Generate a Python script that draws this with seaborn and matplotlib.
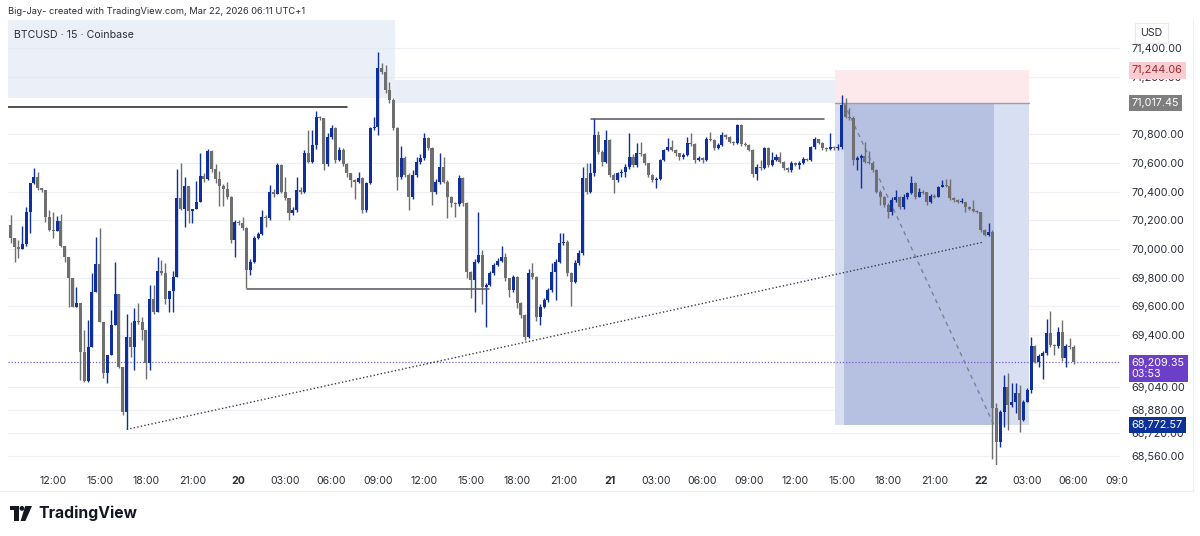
import numpy as np
import pandas as pd
import matplotlib
matplotlib.use("Agg")
import matplotlib.pyplot as plt
import seaborn as sns
from matplotlib.patches import Rectangle, Polygon, Circle
from matplotlib.lines import Line2D
from matplotlib.transforms import Bbox, TransformedBbox, blended_transform_factory

# ---- data: BTCUSD 15m candles, Coinbase ----
start_time = "2026-03-19 09:15"
first_open = 70167
close_px = [
    70074, 70016, 69998, 70035, 70260, 70458, 70499, 70423, 70411, 70225, 70132, 70128,
    70197, 70021, 69947, 69796, 69598, 69621, 69280, 69082, 69319, 69698, 69893, 69494,
    69138, 69261, 69470, 69684, 69180, 68866, 69389, 69319, 69501, 69494, 69435, 69208,
    69654, 69563, 69847, 69830, 69649, 69707, 69807, 70358, 70279, 70441, 70267, 70279,
    70330, 70510, 70485, 70680, 70555, 70485, 70440, 70420, 70365, 70063, 70190, 70183,
    70144, 69854, 69912, 70074, 70104, 70225, 70214, 70400, 70385, 70585, 70400, 70353,
    70249, 70272, 70411, 70400, 70667, 70609, 70725, 70922, 70911, 70592, 70783, 70841,
    70620, 70690, 70592, 70527, 70481, 70469, 70492, 70272, 70458, 70841, 70848, 71259,
    71236, 71108, 71038, 70841, 70504, 70632, 70516, 70365, 70516, 70609, 70632, 70771,
    70701, 70399, 70469, 70574, 70469, 70365, 70318, 70315, 70492, 70318, 69842, 69784,
    69912, 69958, 69737, 69749, 69830, 69888, 69916, 69946, 69795, 69714, 69807, 69621,
    69540, 69389, 69830, 69807, 69528, 69598, 69644, 69714, 69842, 69912, 70040, 70050,
    69830, 69772, 69900, 69970, 70492, 70400, 70527, 70794, 70678, 70608, 70759, 70515,
    70480, 70527, 70540, 70573, 70643, 70585, 70666, 70660, 70597, 70515, 70480, 70490,
    70620, 70690, 70713, 70690, 70666, 70638, 70655, 70736, 70730, 70620, 70632, 70620,
    70764, 70760, 70701, 70724, 70794, 70783, 70748, 70736, 70864, 70731, 70724, 70690,
    70522, 70573, 70562, 70701, 70585, 70620, 70643, 70608, 70562, 70550, 70597, 70585,
    70597, 70625, 70620, 70713, 70764, 70741, 70701, 70694, 70713, 70701, 70713, 71003,
    70922, 70915, 70620, 70632, 70650, 70608, 70597, 70550, 70400, 70365, 70307, 70260,
    70341, 70365, 70290, 70365, 70388, 70458, 70365, 70400, 70395, 70330, 70370, 70365,
    70434, 70446, 70440, 70353, 70341, 70330, 70330, 70295, 70277, 70268, 70260, 70132,
    70098, 70121, 68890, 68657, 68866, 69040, 68913, 68936, 68999, 68808, 68936, 69017,
    69324, 69215, 69254, 69273, 69412, 69331, 69324, 69424, 69238, 69324, 69320, 69209.35,
]
high_px = [
    70237, 70074, 70063, 70160, 70295, 70458, 70562, 70539, 70423, 70411, 70272, 70260,
    70230, 70244, 70021, 69947, 69796, 69738, 69621, 69435, 69505, 69830, 70081, 70149,
    69494, 69261, 69575, 69912, 69684, 69180, 69547, 69494, 69586, 69626, 69528, 69435,
    69749, 69749, 69947, 69923, 69900, 69707, 69849, 70555, 70597, 70499, 70441, 70279,
    70476, 70670, 70530, 70700, 70690, 70590, 70545, 70450, 70470, 70370, 70200, 70200,
    70225, 70150, 69930, 70090, 70115, 70272, 70240, 70446, 70420, 70597, 70590, 70504,
    70353, 70290, 70504, 70430, 70690, 70829, 70829, 70964, 70930, 70911, 70806, 70864,
    70850, 70713, 70702, 70600, 70530, 70485, 70539, 70500, 70470, 70850, 70917, 71375,
    71294, 71282, 71166, 71050, 70853, 70718, 70650, 70530, 70550, 70640, 70660, 70806,
    70780, 70710, 70490, 70667, 70640, 70480, 70370, 70330, 70515, 70500, 70330, 69850,
    69930, 70260, 69990, 69760, 69850, 69900, 69940, 70020, 69970, 69800, 69820, 69810,
    69630, 69545, 69860, 69900, 69810, 69620, 69660, 69730, 69900, 69930, 70110, 70110,
    70060, 69840, 69920, 69990, 70573, 70597, 70600, 70910, 70820, 70690, 70829, 70770,
    70530, 70540, 70560, 70590, 70806, 70660, 70736, 70748, 70670, 70600, 70520, 70500,
    70630, 70700, 70771, 70760, 70700, 70670, 70670, 70778, 70810, 70740, 70650, 70640,
    70780, 70812, 70765, 70740, 70812, 70800, 70790, 70755, 70870, 70870, 70748, 70730,
    70700, 70590, 70620, 70710, 70710, 70678, 70660, 70673, 70615, 70570, 70610, 70605,
    70610, 70640, 70635, 70720, 70778, 70770, 70745, 70710, 70810, 70720, 70730, 71073,
    71050, 70980, 70925, 70645, 70660, 70748, 70680, 70610, 70560, 70410, 70370, 70320,
    70360, 70411, 70370, 70380, 70400, 70509, 70465, 70423, 70410, 70400, 70380, 70380,
    70440, 70481, 70485, 70490, 70360, 70345, 70353, 70330, 70300, 70341, 70275, 70260,
    70140, 70179, 70130, 68925, 68880, 69122, 69133, 69064, 69064, 69052, 68950, 69030,
    69389, 69330, 69270, 69290, 69510, 69570, 69340, 69459, 69505, 69340, 69377, 69330,
]
low_px = [
    70039, 69912, 69935, 69998, 70020, 70109, 70450, 70411, 70400, 70190, 70128, 70074,
    70128, 70015, 69912, 69598, 69598, 69598, 69087, 69075, 69075, 69319, 69698, 69494,
    69099, 69064, 69261, 69470, 69168, 68843, 68743, 69250, 69157, 69480, 69366, 69092,
    69157, 69550, 69563, 69820, 69620, 69563, 69563, 69807, 70270, 70151, 70179, 70183,
    70279, 70330, 70470, 70480, 70540, 70460, 70300, 70300, 70350, 70040, 69947, 70170,
    70130, 69726, 69819, 69900, 70070, 70100, 70150, 70200, 70360, 70380, 70390, 70340,
    70202, 70240, 70260, 70380, 70390, 70600, 70600, 70700, 70900, 70551, 70580, 70770,
    70600, 70610, 70580, 70504, 70434, 70346, 70460, 70249, 70260, 70450, 70830, 70794,
    71220, 71090, 71020, 70830, 70411, 70490, 70500, 70272, 70350, 70500, 70590, 70620,
    70690, 70306, 70380, 70450, 70460, 70214, 70290, 70225, 70300, 70300, 69800, 69656,
    69563, 69900, 69620, 69458, 69740, 69820, 69880, 69910, 69780, 69668, 69700, 69586,
    69520, 69366, 69380, 69790, 69500, 69470, 69590, 69630, 69700, 69644, 69900, 70030,
    69810, 69600, 69760, 69890, 69960, 70380, 70390, 70510, 70660, 70580, 70600, 70500,
    70388, 70470, 70500, 70500, 70560, 70570, 70570, 70650, 70585, 70500, 70470, 70422,
    70480, 70610, 70680, 70680, 70650, 70620, 70630, 70650, 70720, 70597, 70610, 70600,
    70610, 70750, 70690, 70700, 70715, 70770, 70740, 70725, 70730, 70720, 70715, 70680,
    70500, 70480, 70550, 70555, 70570, 70580, 70610, 70600, 70550, 70540, 70540, 70575,
    70560, 70590, 70610, 70615, 70700, 70730, 70690, 70680, 70690, 70690, 70690, 70700,
    70910, 70900, 70585, 70550, 70423, 70600, 70590, 70540, 70390, 70306, 70290, 70214,
    70240, 70330, 70280, 70280, 70350, 70380, 70350, 70360, 70385, 70306, 70320, 70355,
    70360, 70430, 70430, 70340, 70330, 70320, 70320, 70260, 70270, 70260, 70250, 70120,
    70090, 70090, 68540, 68483, 68622, 68762, 68739, 68900, 68855, 68727, 68800, 68936,
    69000, 69203, 69180, 69092, 69260, 69320, 69261, 69310, 69220, 69180, 69300, 69200,
]

x_tick_labels = ["12:00", "15:00", "18:00", "21:00", "20", "03:00", "06:00", "09:00",
                 "12:00", "15:00", "18:00", "21:00", "21", "03:00", "06:00", "09:00",
                 "12:00", "15:00", "18:00", "21:00", "22", "03:00", "06:00", "09:00"]
x_tick_times = pd.date_range("2026-03-19 12:00", "2026-03-22 09:00", freq="3h")
day_labels = ["20", "21", "22"]
y_ticks = [71400, 71200, 70800, 70600, 70400, 70200, 70000, 69800, 69600,
           69400, 69040, 68880, 68720, 68560]

# drawings on the chart (time in bar index, price)
last_price = 69209.35
countdown = "03:53"
trend_line = ([30, 251.8], [68743, 70049])
level_lines = [([-0.7, 86.9], 70990), ([61.1, 123.8], 69721), ([150.2, 210.4], 70906)]
zone_upper = ([-0.7, 99.3], [71052, 71596])
zone_mid = ([99.3, 219.4], [71017, 71178])
pos_x = [213.3, 263.4]
pos_hit_x = [215.6, 254.4]
pos_entry, pos_stop, pos_target = 71017.45, 71244.06, 68772.57

# ---- style ----
sns.set_theme(style="white")
plt.rcParams["font.family"] = ["Inter", "DejaVu Sans"]
BLUE = "#0f2f9b"
GRAY = "#6f6f6f"
TXT = "#2a2e39"

W, H = 1200, 536
fig = plt.figure(figsize=(W / 100, H / 100), dpi=100)
ax = fig.add_axes([8 / W, 1 - 465 / H, 1112 / W, 445 / H])
ax.set_xlim(-0.7, 286.6)
ax.set_ylim(68494.8, 71595.8)

close = np.array(close_px, float)
high = np.array(high_px, float)
low = np.array(low_px, float)
open_ = np.concatenate([[first_open], close[:-1]])
high = np.maximum(high, np.maximum(open_, close))
low = np.minimum(low, np.minimum(open_, close))
idx = np.arange(len(close))
up = close >= open_
cols = np.where(up, BLUE, GRAY)

# zones
ax.add_patch(Rectangle((zone_upper[0][0], zone_upper[1][0]), zone_upper[0][1] - zone_upper[0][0],
                       zone_upper[1][1] - zone_upper[1][0], color="#dfe5f3", alpha=0.6, lw=0, zorder=1))
ax.add_patch(Rectangle((zone_mid[0][0], zone_mid[1][0]), zone_mid[0][1] - zone_mid[0][0],
                       zone_mid[1][1] - zone_mid[1][0], color="#d9e0f2", alpha=0.55, lw=0, zorder=1))
# position tool
ax.add_patch(Rectangle((pos_x[0], pos_entry), pos_x[1] - pos_x[0], pos_stop - pos_entry,
                       color="#fde9ec", lw=0, zorder=1.2))
ax.add_patch(Rectangle((pos_x[0], pos_target), pos_x[1] - pos_x[0], pos_entry - pos_target,
                       color="#d8dff2", lw=0, zorder=1.2))
ax.add_patch(Rectangle((pos_hit_x[0], pos_target), pos_hit_x[1] - pos_hit_x[0], pos_entry - pos_target,
                       color="#b6c1e2", lw=0, zorder=1.3))
ax.plot(pos_x, [pos_entry, pos_entry], color="#9a9ea8", lw=1, zorder=1.4)
ax.plot(pos_hit_x, [pos_entry, pos_target], color="#7d818c", lw=1, ls=(0, (3, 3)), zorder=2)

# last price line
ax.axhline(last_price, color="#7b5bd3", lw=0.9, ls=(0, (1, 1.5)), zorder=1.5)

# candles
ax.vlines(idx, low, high, colors=cols, lw=1.0, zorder=3)
body = close - open_
min_body = 7
body = np.where(np.abs(body) < min_body, np.where(up, min_body, -min_body), body)
ax.bar(idx, body, bottom=open_, width=0.78, color=cols, lw=0, zorder=4)

# drawn lines
for i, (xs, yv) in enumerate(level_lines):
    sns.lineplot(x=xs, y=[yv, yv], ax=ax, color="#2b2b2b" if i == 0 else "#5a5d66",
                 lw=1.15, zorder=5, estimator=None)
sns.lineplot(x=trend_line[0], y=trend_line[1], ax=ax, color="#3a3d45", lw=1,
             linestyle=(0, (1, 1.6)), zorder=5, estimator=None)

# axes styling
for s in ax.spines.values():
    s.set_visible(False)
ax.yaxis.tick_right()
ax.set_yticks(y_ticks)
ax.set_yticklabels([f"{v:,.2f}" for v in y_ticks])
ax.tick_params(axis="y", length=0, pad=8.5, labelsize=7.8, labelcolor=TXT)
ax.grid(axis="y", color="#eef0f5", lw=0.9, zorder=0)
ax.grid(axis="x", visible=False)
ax.set_axisbelow(True)

t0 = pd.Timestamp(start_time)
x_pos = [(t - t0) / pd.Timedelta(minutes=15) for t in x_tick_times]
ax.set_xticks(x_pos)
ax.set_xticklabels(x_tick_labels)
ax.tick_params(axis="x", length=0, pad=8, labelsize=7.6, labelcolor=TXT)
for lab in ax.get_xticklabels():
    if lab.get_text() in day_labels:
        lab.set_fontweight("bold")
last_lab = ax.get_xticklabels()[-1]
last_lab.set_clip_box(TransformedBbox(Bbox.from_extents(0, 0, 1128 / W, 1), fig.transFigure))
last_lab.set_clip_on(True)

# price labels on the scale
ytr = blended_transform_factory(ax.transAxes, ax.transData)
def price_tag(y, text, fc, tc, va="center"):
    ax.text(1.0105, y, text, transform=ytr, ha="left", va=va, fontsize=7.8, color=tc,
            zorder=10, linespacing=1.15,
            bbox=dict(boxstyle="square,pad=0.28", fc=fc, ec="none"))

price_tag(pos_stop, f"{pos_stop:,.2f}", "#f9cdd1", "#a3262e")
price_tag(pos_entry, f"{pos_entry:,.2f}", "#7f7f7f", "white")
price_tag(last_price + 32, f"{last_price:,.2f}\n{countdown}", "#6b3fc7", "white", va="top")
price_tag(pos_target, f"{pos_target:,.2f}", "#0c3299", "white")

fig.text(1140 / W, 1 - 33 / H, "USD", fontsize=7.6, color=TXT, ha="left", va="center",
         bbox=dict(boxstyle="square,pad=0.5", fc="white", ec="#e6e8ee", lw=0.8))

# header texts
fig.text(8 / W, 1 - 12 / H, "Big-Jay- created with TradingView.com, Mar 22, 2026 06:11 UTC+1",
         fontsize=6.7, color=TXT, ha="left", va="center")
fig.text(14 / W, 1 - 35 / H, "BTCUSD · 15 · Coinbase", fontsize=7.6, color=TXT,
         ha="left", va="center")

# frame lines
fig.add_artist(Line2D([0, 1193 / W], [1 - 491 / H, 1 - 491 / H], color="#eceef3", lw=0.8))
fig.add_artist(Line2D([1193 / W, 1193 / W], [1 - 20 / H, 1 - 491 / H], color="#eceef3", lw=0.8))

# TradingView logo
lax = fig.add_axes([10 / W, 1 - 521 / H, 22 / W, 15 / H])
lax.set_xlim(0, 22)
lax.set_ylim(0, 15)
lax.axis("off")
lax.add_patch(Polygon([(0, 15), (8.6, 15), (8.6, 0), (4.4, 0), (4.4, 10.6), (0, 10.6)],
                      closed=True, color="#131722", lw=0))
lax.add_patch(Circle((11.9, 12.6), 2.4, color="#131722", lw=0))
lax.add_patch(Polygon([(15.2, 15), (22, 15), (15.4, 0), (10.6, 0)], closed=True,
                      color="#131722", lw=0))
fig.text(38 / W, 1 - 513 / H, "TradingView", fontsize=11.3, fontweight="bold",
         color="#131722", ha="left", va="center")

fig.savefig("out.png", dpi=100)
